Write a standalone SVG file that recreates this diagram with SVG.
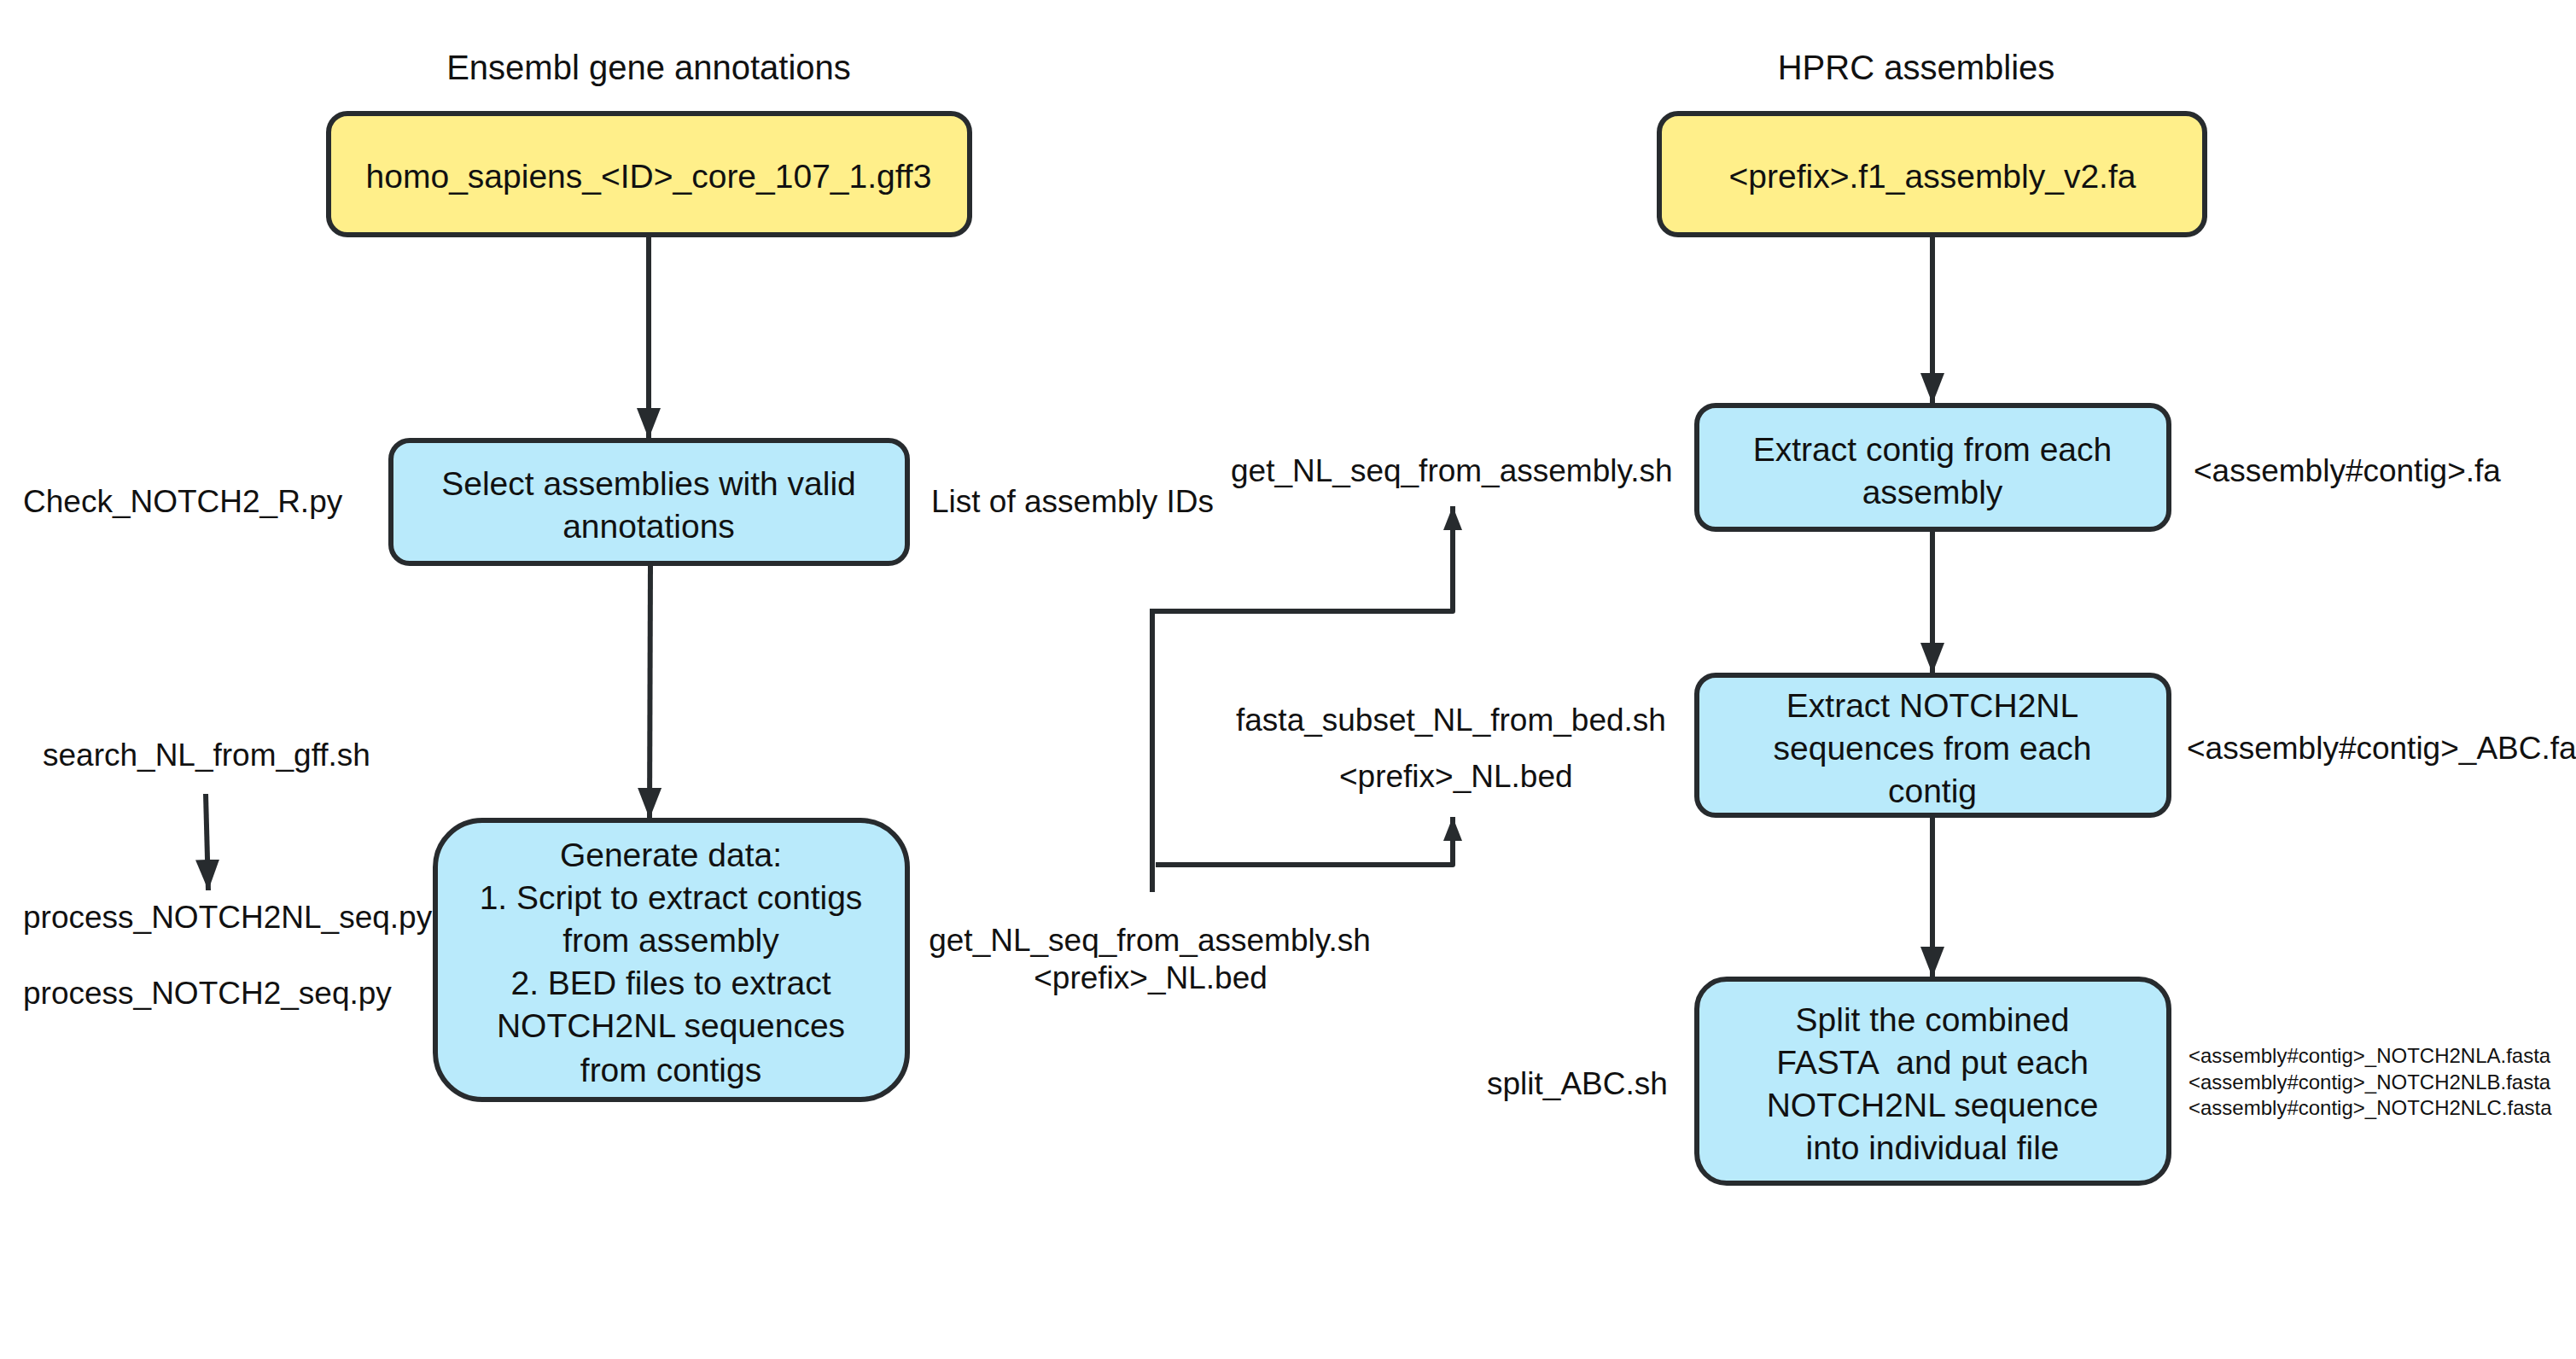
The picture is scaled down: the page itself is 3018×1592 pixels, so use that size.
<svg xmlns="http://www.w3.org/2000/svg" width="3018" height="1592" viewBox="0 0 3018 1592">
<style>
text{font-family:"Liberation Sans",Arial,sans-serif;fill:#111;dominant-baseline:central}
.t{font-size:40px;text-anchor:middle}
.n{font-size:39px;text-anchor:middle}
.l{font-size:37px}
.lc{font-size:37px;text-anchor:middle}
.s{font-size:24px}
.y{fill:#FFEF8A;stroke:#272B2E;stroke-width:6}
.b{fill:#B9EAFB;stroke:#272B2E;stroke-width:6}
.c{fill:none;stroke:#272B2E;stroke-width:6}
</style>
<defs>
<marker id="ah" markerUnits="userSpaceOnUse" markerWidth="38" markerHeight="30" refX="36" refY="14" orient="auto">
<path d="M0,0 L36,14 L0,28 Z" fill="#272B2E"/>
</marker>
<marker id="as" markerUnits="userSpaceOnUse" markerWidth="30" markerHeight="24" refX="28" refY="11" orient="auto">
<path d="M0,0 L28,11 L0,22 Z" fill="#272B2E"/>
</marker>
</defs>
<rect width="3018" height="1592" fill="#fff"/>
<text class="t" x="760" y="79">Ensembl gene annotations</text>
<text class="t" x="2245" y="79">HPRC assemblies</text>
<g id="connectors">
<line class="c" x1="760" y1="278" x2="760" y2="514" marker-end="url(#ah)"/>
<line class="c" x1="762" y1="663" x2="761" y2="959" marker-end="url(#ah)"/>
<line class="c" x1="2264" y1="278" x2="2264" y2="473" marker-end="url(#ah)"/>
<line class="c" x1="2264" y1="623" x2="2264" y2="789" marker-end="url(#ah)"/>
<line class="c" x1="2264" y1="958" x2="2264" y2="1145" marker-end="url(#ah)"/>
<line class="c" x1="241" y1="930" x2="244" y2="1043" marker-end="url(#ah)"/>
<line x1="1350" y1="713" x2="1350" y2="1045" stroke="#272B2E" stroke-width="6"/>
<path class="c" stroke-linejoin="round" d="M1347,716 H1702 V593" marker-end="url(#as)"/>
<path class="c" stroke-linejoin="round" d="M1354,1013 H1702 V957" marker-end="url(#as)"/>
</g>
<g id="node-gff3">
<rect class="y" x="385" y="133" width="751" height="142" rx="22"/>
<text class="n" x="760" y="206">homo_sapiens_&lt;ID&gt;_core_107_1.gff3</text>
</g>
<g id="node-assembly">
<rect class="y" x="1944" y="133" width="639" height="142" rx="22"/>
<text class="n" x="2264" y="206">&lt;prefix&gt;.f1_assembly_v2.fa</text>
</g>
<g id="node-select">
<rect class="b" x="458" y="516" width="605" height="144" rx="22"/>
<text class="n" x="760" y="566">Select assemblies with valid</text>
<text class="n" x="760" y="616">annotations</text>
</g>
<g id="node-generate">
<rect class="b" x="510" y="961" width="553" height="327" rx="55"/>
<text class="n" x="786" y="1001">Generate data:</text>
<text class="n" x="786" y="1051">1. Script to extract contigs</text>
<text class="n" x="786" y="1101">from assembly</text>
<text class="n" x="786" y="1151">2. BED files to extract</text>
<text class="n" x="786" y="1201">NOTCH2NL sequences</text>
<text class="n" x="786" y="1253">from contigs</text>
</g>
<g id="node-extract-contig">
<rect class="b" x="1988" y="475" width="553" height="145" rx="22"/>
<text class="n" x="2264" y="526">Extract contig from each</text>
<text class="n" x="2264" y="576">assembly</text>
</g>
<g id="node-extract-nl">
<rect class="b" x="1988" y="791" width="553" height="164" rx="22"/>
<text class="n" x="2264" y="826">Extract NOTCH2NL</text>
<text class="n" x="2264" y="876">sequences from each</text>
<text class="n" x="2264" y="926">contig</text>
</g>
<g id="node-split">
<rect class="b" x="1988" y="1147" width="553" height="239" rx="35"/>
<text class="n" x="2264" y="1194">Split the combined</text>
<text class="n" x="2264" y="1244" xml:space="preserve">FASTA  and put each</text>
<text class="n" x="2264" y="1294">NOTCH2NL sequence</text>
<text class="n" x="2264" y="1344">into individual file</text>
</g>
<g id="labels">
<text class="l" x="27" y="587">Check_NOTCH2_R.py</text>
<text class="l" x="1091" y="587">List of assembly IDs</text>
<text class="l" x="1442" y="551">get_NL_seq_from_assembly.sh</text>
<text class="l" x="2570" y="551">&lt;assembly#contig&gt;.fa</text>
<text class="l" x="50" y="884">search_NL_from_gff.sh</text>
<text class="l" x="1448" y="843">fasta_subset_NL_from_bed.sh</text>
<text class="l" x="1569" y="909">&lt;prefix&gt;_NL.bed</text>
<text class="l" x="2562" y="876">&lt;assembly#contig&gt;_ABC.fa</text>
<text class="l" x="27" y="1074">process_NOTCH2NL_seq.py</text>
<text class="l" x="27" y="1163">process_NOTCH2_seq.py</text>
<text class="lc" x="1347" y="1101">get_NL_seq_from_assembly.sh</text>
<text class="lc" x="1348" y="1145">&lt;prefix&gt;_NL.bed</text>
<text class="l" x="1742" y="1269">split_ABC.sh</text>
<text class="s" x="2564" y="1236">&lt;assembly#contig&gt;_NOTCH2NLA.fasta</text>
<text class="s" x="2564" y="1267">&lt;assembly#contig&gt;_NOTCH2NLB.fasta</text>
<text class="s" x="2564" y="1297">&lt;assembly#contig&gt;_NOTCH2NLC.fasta</text>
</g>
</svg>
